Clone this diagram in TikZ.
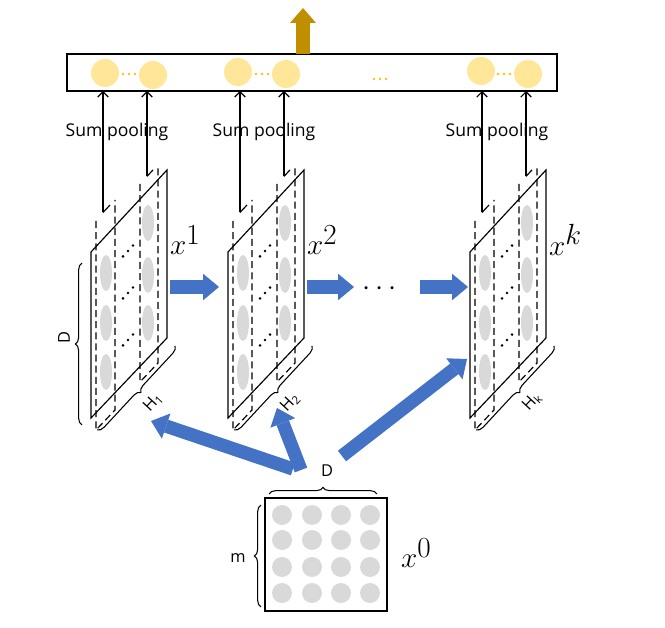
\documentclass[tikz,border=0pt]{standalone}
\usepackage{fontspec}
\setmainfont{Open Sans}
\usetikzlibrary{arrows.meta,decorations.pathreplacing}
\definecolor{fatblue}{RGB}{68,114,196}
\definecolor{poolgold}{RGB}{191,143,0}
\definecolor{poolfill}{RGB}{255,230,153}
\definecolor{dotgold}{RGB}{255,192,0}
\definecolor{cellgray}{RGB}{217,217,217}
\tikzset{
  fatarrow/.style={draw=fatblue, line width=0.4cm, -{Triangle[width=0.8cm, length=0.48cm, line width=0pt]}},
  poolarrow/.style={line width=1pt, -{Straight Barb[width=9pt, length=4.5pt]}},
  stripline/.style={line width=1pt, dash pattern=on 6pt off 3.5pt},
  mapbrace/.style={line width=0.9pt, decorate, decoration={brace, amplitude=0.2cm}},
  xlabel/.style={anchor=west, inner sep=0pt, font=\fontsize{33}{36}\selectfont},
  smalllabel/.style={inner sep=0pt, font=\fontsize{14}{16}\selectfont},
  poollabel/.style={inner sep=0pt, font=\fontsize{15}{18}\selectfont}
}
% one feature map x^k: #1 left x, #2 name, #3 exponent, #4 H index
\newcommand{\featmap}[4]{%
  \begin{scope}[shift={(#1,0)}]
    \draw[line width=1pt] (0,252) -- (76,170) -- (76,338) -- (0,418) -- cycle;
    \draw[stripline] (5,221) -- (5,430) -- (24,410) -- (24,200);
    \draw[stripline] (49,184) -- (49,382) -- (67,363) -- (67,165);
    \foreach \yy in {273,323,372} \fill[cellgray] (15,\yy) ellipse (6 and 18);
    \foreach \yy in {223,275,323} \fill[cellgray] (57,\yy) ellipse (6 and 18);
    \foreach \yy in {251,293,340} {
      \foreach \dd in {-1,0,1} \fill (37+5*\dd,\yy-5.4*\dd) circle (1.4);
    }
    \coordinate (#2a) at (12,212.5);
    \coordinate (#2b) at (56,176.4);
    \coordinate (#2atop) at (12,91);
    \coordinate (#2btop) at (56,91);
    \draw[line width=1pt] (#2a) -- +(7,-7.5);
    \draw[line width=1pt] (#2b) -- +(6,-6.5);
    \draw[poolarrow] (#2a) -- (#2atop);
    \draw[poolarrow] (#2b) -- (#2btop);
    \draw[mapbrace] (84,346) -- (6,430);
    \node[smalllabel, rotate=47] (#2h) at (62,402) {H\textsubscript{#4}};
    \node[xlabel] (#2lab) at (79,240) {$x^{#3}$};
  \end{scope}}

\begin{document}
\begin{tikzpicture}[x=0.03cm, y=-0.03cm]
  \useasboundingbox (0,0) rectangle (665,628);

  % pooled output bar
  \draw[line width=1pt] (67,54) rectangle (557,91);
  \foreach \cx/\cy in {105/73,153/75,238/72,286/74,481/71,528/74}
    \fill[poolfill] (\cx,\cy) circle (14);
  \foreach \cx in {129,262,504}
    \foreach \dd in {-6,0,6} \fill[dotgold] (\cx+\dd,74) circle (1.4);
  \foreach \dd in {-6,0,6} \fill[dotgold] (380+\dd,79) circle (1.4);
  \coordinate (out) at (303,54);
  \coordinate (outtip) at (303,8);
  \draw[draw=poolgold, line width=0.4cm, -{Triangle[width=0.78cm, length=0.45cm, line width=0pt]}] (out) -- (outtip);

  % feature maps
  \featmap{91}{m1}{1}{1}
  \featmap{228}{m2}{2}{2}
  \featmap{470}{mk}{k}{k}

  \node[poollabel] (pool1) at (117,132) {Sum pooling};
  \node[poollabel] (pool2) at (264,132) {Sum pooling};
  \node[poollabel] (poolk) at (497,132) {Sum pooling};

  % D brace of x^1
  \draw[mapbrace] (82,425) -- (82,263);
  \node[smalllabel, rotate=90] (dlab) at (64,338) {D};

  % arrows between maps
  \coordinate (h1s) at (170,287);
  \coordinate (h1e) at (219,287);
  \coordinate (h2s) at (307,287);
  \coordinate (h2e) at (354,287);
  \coordinate (h3s) at (420,287);
  \coordinate (h3e) at (468,287);
  \draw[fatarrow] (h1s) -- (h1e);
  \draw[fatarrow] (h2s) -- (h2e);
  \draw[fatarrow] (h3s) -- (h3e);
  \node[inner sep=0pt, font=\fontsize{28}{30}\selectfont] (gap) at (380,289) {$\cdots$};

  % input x^0
  \draw[line width=1pt] (265,498) rectangle (387,611);
  \foreach \cx in {282,312,341,370}
    \foreach \cy in {515,540,567,593}
      \fill[cellgray] (\cx,\cy) circle (10);
  \draw[mapbrace] (269,494) -- (377,494);
  \node[smalllabel] (d0lab) at (327,471) {D};
  \draw[mapbrace] (261,607) -- (261,505);
  \node[smalllabel] (mlab) at (238,558) {m};
  \node[xlabel] (x0lab) at (401,553) {$x^{0}$};

  \coordinate (in1) at (293,469);
  \coordinate (in2) at (301,470);
  \coordinate (in3) at (342,456);
  \coordinate (to1) at (151,421);
  \coordinate (to2) at (277,408);
  \coordinate (to3) at (467,359);
  \draw[fatarrow] (in1) -- (to1);
  \draw[fatarrow] (in2) -- (to2);
  \draw[fatarrow] (in3) -- (to3);
\end{tikzpicture}
\end{document}
